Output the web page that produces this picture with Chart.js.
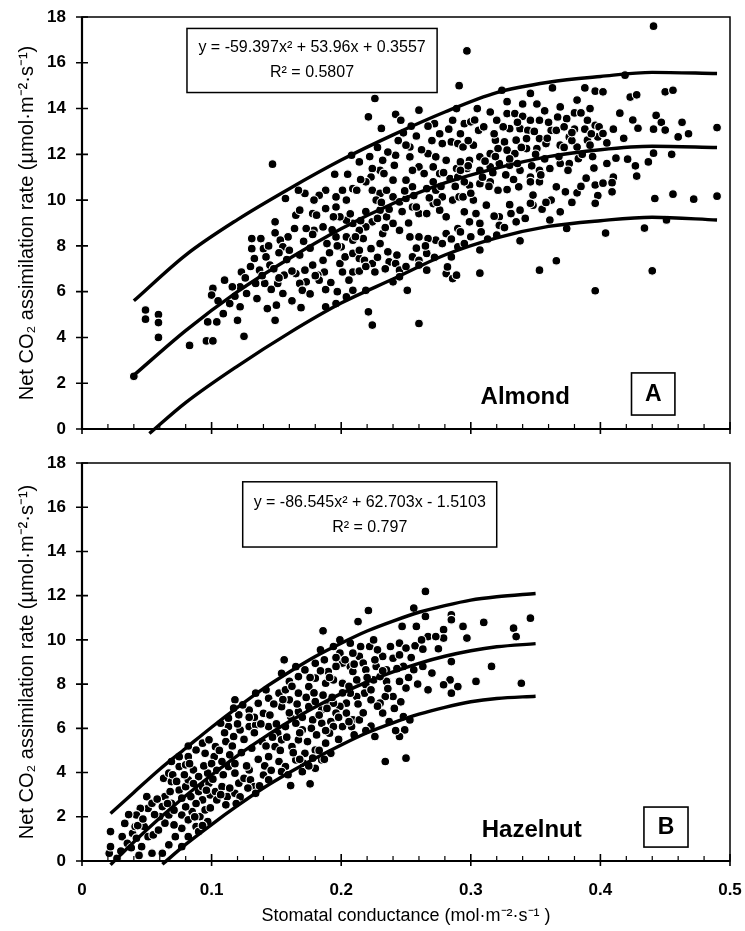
<!DOCTYPE html>
<html><head><meta charset="utf-8">
<script src="https://cdn.jsdelivr.net/npm/chart.js@4.4.1/dist/chart.umd.min.js"></script>
<style>
html,body{margin:0;padding:0;background:#fff;}
#wrap{position:relative;width:745px;height:931px;overflow:hidden;}
#cA{position:absolute;left:0;top:0;}
#cB{position:absolute;left:0;top:445px;}
</style></head><body>
<div id="wrap"><canvas id="cA" width="745" height="445"></canvas><canvas id="cB" width="745" height="486"></canvas></div>
<script>
const FONT = '"Liberation Sans", Arial, Helvetica, sans-serif';

// ---------- axis ticks ----------
const xTicks = [0, 0.1, 0.2, 0.3, 0.4, 0.5];
const xMinorTicks = [0.02,0.04,0.06,0.08,0.12,0.14,0.16,0.18,0.22,0.24,0.26,0.28,0.32,0.34,0.36,0.38,0.42,0.44,0.46,0.48];
const yTicks = [0, 2, 4, 6, 8, 10, 12, 14, 16, 18];

// ---------- texts ----------
const yTitle = 'Net CO\u2082 assimilation rate (\u00B5mol\u00B7m\u207B\u00B2\u00B7s\u207B\u00B9)';
const xTitle = 'Stomatal conductance (mol\u00B7m\u207B\u00B2\u00B7s\u207B\u00B9 )';
const almondEquation = 'y = -59.397x\u00B2 + 53.96x + 0.3557';
const almondR2 = 'R\u00B2 = 0.5807';
const hazelEquation = 'y = -86.545x\u00B2 + 62.703x - 1.5103';
const hazelR2 = 'R\u00B2 = 0.797';

// ---------- Almond (panel A) ----------
const almondPoints = [
[0.040,2.3],[0.049,5.2],[0.049,4.8],[0.059,5.0],[0.059,4.65],[0.059,4.0],[0.083,3.65],[0.096,3.85],[0.101,3.85],[0.125,4.05],
[0.147,11.57],[0.157,10.07],[0.149,9.05],[0.149,8.57],[0.195,11.13],[0.205,11.13],[0.214,11.67],[0.208,11.96],[0.221,13.64],[0.226,14.44],[0.231,13.13],[0.242,13.75],[0.246,13.49],[0.260,13.93],[0.254,13.23],[0.248,12.94],[0.272,13.34],[0.267,13.23],[0.286,13.49],[0.289,14.0],
[0.285,12.54],[0.278,12.47],[0.290,12.47],[0.267,12.03],[0.273,11.89],[0.281,11.74],[0.289,11.38],[0.271,11.45],[0.260,11.45],[0.253,12.32],[0.253,11.89],[0.242,11.96],[0.232,11.74],[0.241,11.52],[0.230,11.3],[0.224,11.38],
[0.255,11.3],[0.264,11.16],[0.276,11.16],[0.284,10.94],[0.290,11.01],
[0.209,10.5],[0.201,10.43],[0.196,10.14],[0.188,10.43],[0.183,10.21],[0.179,10.0],[0.172,10.29],[0.167,10.43],[0.165,9.34],[0.168,9.56],[0.178,9.41],[0.181,9.34],[0.186,8.83],[0.179,8.68],[0.173,8.76],[0.164,8.76],[0.159,8.39],[0.153,8.25],[0.155,7.96],[0.160,7.81],[0.140,7.88],[0.131,8.32],[0.138,8.32],[0.131,7.88],[0.133,7.45],[0.142,7.52],[0.145,7.16],[0.137,6.94],[0.123,6.86],[0.122,6.21],[0.127,5.92],[0.101,6.14],[0.100,5.85],[0.116,6.21],[0.114,5.48],[0.122,5.34],[0.109,5.04],[0.104,4.68],[0.120,4.75],[0.097,4.68],[0.134,6.36],[0.141,6.36],[0.143,5.26],[0.150,5.41],[0.149,4.75],[0.155,5.92],[0.151,6.36],[0.156,6.72],[0.165,6.79],[0.172,6.94],[0.178,7.16],[0.186,7.37],[0.187,6.86],[0.182,6.72],[0.173,6.43],[0.168,6.36],[0.170,6.06],[0.183,6.5],[0.188,6.09],[0.199,7.23],[0.203,7.52],[0.209,7.67],[0.214,7.45],[0.218,7.37],[0.224,7.23],[0.226,6.86],[0.209,6.86],[0.201,6.86],[0.200,7.96],[0.196,8.39],[0.204,8.39],[0.209,8.25],[0.217,8.32],[0.214,7.81],[0.223,7.88],[0.230,8.10],[0.236,7.74],[0.237,7.30],[0.242,7.23],[0.245,6.94],[0.255,7.52],[0.260,7.37],[0.266,6.94],[0.281,6.79],[0.286,6.57],[0.289,6.72],[0.285,7.52],[0.290,7.96],[0.290,8.76],[0.281,8.54],[0.273,8.25],[0.267,8.32],[0.260,8.39],[0.253,8.39],[0.245,8.68],[0.240,8.98],[0.235,9.27],[0.230,9.56],[0.224,9.05],[0.219,8.83],[0.214,8.68],[0.209,8.98],[0.204,9.12],[0.199,9.27],[0.194,9.27],[0.188,9.63],[0.196,9.70],[0.204,10.0],[0.212,10.43],[0.224,10.43],[0.230,10.29],[0.235,10.43],[0.240,10.14],[0.245,9.92],[0.250,10.07],[0.255,9.70],[0.260,9.41],[0.266,9.41],[0.271,9.85],[0.276,9.56],[0.281,9.27],[0.286,10.0],[0.291,10.14],[0.278,10.14],[0.273,10.43],[0.266,10.5],[0.255,10.58],[0.250,10.87],[0.240,10.87],[0.233,11.16],[0.223,11.01],[0.219,10.8],[0.227,10.0],[0.232,8.54],[0.219,6.06],[0.209,6.06],[0.204,5.77],[0.196,5.48],[0.188,5.34],[0.221,5.12],[0.224,4.54],[0.260,4.61],[0.251,6.06],[0.240,6.43],[0.245,6.65],[0.260,7.16],[0.266,7.67],[0.282,7.08],
[0.295,13.34],[0.300,13.42],[0.306,13.05],[0.315,13.85],[0.320,13.49],[0.328,13.78],[0.334,13.78],[0.340,13.66],[0.346,13.49],[0.353,13.49],[0.330,13.12],[0.338,13.12],[0.344,13.05],[0.319,12.62],[0.326,12.54],[0.335,12.62],[0.343,12.69],[0.353,12.69],[0.362,13.05],[0.367,13.63],[0.374,13.56],[0.380,13.81],[0.385,13.81],[0.390,13.49],[0.396,13.27],[0.399,13.2],[0.366,13.05],[0.376,12.76],[0.369,12.4],[0.382,12.32],[0.390,12.62],[0.398,12.76],[0.402,12.91],
[0.294,12.32],[0.302,12.4],[0.292,11.67],[0.299,11.74],[0.307,11.89],[0.315,12.03],[0.321,12.25],[0.328,12.18],[0.334,12.03],[0.343,12.25],[0.351,12.25],[0.358,12.47],
[0.297,11.38],[0.307,11.3],[0.315,11.45],[0.322,11.6],[0.330,11.52],[0.338,11.3],[0.346,11.01],[0.353,11.3],[0.361,11.38],[0.369,11.6],[0.376,11.6],[0.383,11.81],
[0.299,10.65],[0.307,10.72],[0.315,10.8],[0.321,10.43],[0.328,10.46],[0.337,10.58],[0.346,10.8],[0.353,10.8],[0.366,10.58],
[0.294,10.14],[0.302,10.0],[0.312,9.78],[0.295,9.49],[0.304,9.41],[0.322,9.27],[0.331,9.41],[0.338,9.56],[0.348,9.78],[0.299,9.05],[0.307,8.98],[0.292,8.61],[0.308,8.61],[0.322,8.9],[0.335,9.05],
[0.297,16.52],[0.291,15.0],[0.324,14.8],[0.346,14.66],[0.363,14.9],[0.388,14.9],[0.396,14.76],[0.402,14.73],[0.419,15.46],[0.423,14.5],[0.428,14.6],[0.450,14.73],[0.456,14.8],[0.305,14.0],[0.328,14.3],[0.340,14.2],[0.351,14.2],[0.369,14.07],[0.382,14.37],[0.392,14.0],[0.415,13.8],[0.425,13.5],[0.429,13.14],[0.443,13.7],[0.447,13.4],[0.441,13.1],[0.450,13.06],[0.463,13.4],[0.468,12.9],[0.460,12.76],[0.490,13.17],[0.441,12.05],[0.455,12.0],[0.437,11.67],[0.412,11.83],[0.421,11.79],[0.427,11.5],[0.428,11.05],[0.405,11.6],[0.410,11.0],[0.394,11.9],[0.389,10.96],[0.396,10.66],[0.402,10.74],[0.409,10.76],[0.398,10.2],[0.396,9.86],[0.409,10.36],[0.442,10.07],[0.456,10.26],[0.472,10.04],[0.490,10.17],[0.373,10.36],[0.382,10.32],[0.369,9.49],[0.361,9.13],[0.374,8.76],[0.404,8.56],[0.434,8.78],[0.451,9.13],[0.338,8.22],[0.353,6.94],[0.366,7.35],[0.396,6.04],[0.440,6.91],[0.307,6.81],[0.320,8.47],[0.346,9.86],[0.348,10.22],[0.307,7.82],[0.441,17.6],
[0.148,7.0],[0.152,6.6],[0.158,7.4],[0.162,6.9],[0.168,7.6],[0.171,8.2],[0.176,7.9],[0.178,8.5],[0.189,8.1],[0.191,7.7],[0.193,8.7],[0.197,8.0],[0.207,9.4],[0.211,8.4],[0.215,9.1],[0.219,9.5],[0.228,9.2],[0.231,9.9],[0.234,8.8],[0.237,9.6],[0.247,9.5],[0.249,10.4],[0.252,9.0],[0.256,10.2],[0.258,9.7],[0.268,10.1],[0.271,10.8],[0.274,9.9],[0.277,10.6],[0.279,11.2],[0.288,10.6],[0.292,11.3],[0.295,10.8],[0.298,11.5],[0.300,10.3],[0.309,11.0],[0.311,11.7],[0.314,10.6],[0.317,11.2],[0.319,11.9],[0.327,11.1],[0.330,11.8],[0.333,10.9],[0.336,11.6],[0.339,12.3],[0.347,11.5],[0.350,12.0],[0.354,11.1],[0.357,11.8],[0.359,12.7],[0.368,11.9],[0.372,12.3],[0.375,11.3],[0.378,12.6],[0.380,13.1],[0.386,12.0],[0.392,12.4],[0.395,11.4],[0.388,13.1],
[0.215,10.9],[0.222,11.9],[0.228,12.3],[0.236,12.1],[0.244,12.6],[0.250,12.4],[0.258,12.8],[0.262,12.2],[0.270,12.6],[0.276,12.9],[0.283,13.1],[0.292,12.9],[0.298,12.6],[0.303,13.5],[0.310,13.2],[0.318,12.9],[0.325,13.2],[0.336,13.4],[0.349,13.0],[0.357,13.9],[0.360,13.4],[0.372,13.2],[0.378,12.95],[0.393,12.9],[0.405,12.5],[0.410,13.1],[0.418,12.7],
[0.162,5.6],[0.169,5.3],[0.176,5.9],[0.180,6.7],[0.192,6.4],[0.197,6.0],[0.206,6.5],[0.214,6.9],[0.219,7.1],[0.228,7.5],[0.234,7.0],[0.243,7.6],[0.250,7.1],[0.258,7.9],[0.265,8.0],[0.272,7.5],[0.278,8.1],[0.285,8.3],[0.295,8.1],[0.300,8.4],[0.313,8.3],[0.318,9.3],[0.326,8.8],[0.330,9.8],[0.342,9.2],[0.355,9.6],[0.362,10.0],[0.358,9.9],[0.378,9.9],[0.385,10.6],
[0.105,5.6],[0.110,6.5],[0.118,5.8],[0.126,6.6],[0.130,7.1],[0.135,5.7],[0.139,6.7],[0.146,6.1],[0.144,8.0],[0.152,7.7]
];
const almondCurveX = [0.04, 0.08, 0.12, 0.16, 0.20, 0.24, 0.28, 0.32, 0.36, 0.40, 0.44, 0.49];
const almondUpper  = [5.6, 7.6, 9.15, 10.5, 11.75, 12.85, 13.85, 14.7, 15.15, 15.4, 15.58, 15.53];
const almondFit    = [2.35, 4.3, 6.0, 7.45, 8.75, 9.85, 10.75, 11.4, 11.9, 12.2, 12.35, 12.3];
const almondLowerX = [0.052, 0.08, 0.12, 0.16, 0.20, 0.24, 0.28, 0.32, 0.36, 0.40, 0.44, 0.49];
const almondLower  = [-0.2, 1.15, 2.75, 4.2, 5.5, 6.55, 7.6, 8.35, 8.85, 9.1, 9.25, 9.13];

// ---------- Hazelnut (panel B) ----------
const hazelPoints = [
[0.022,1.33],[0.021,0.35],[0.022,0.65],[0.027,0.12],[0.031,1.1],[0.035,0.8],[0.039,1.25],[0.042,1.03],[0.041,1.56],[0.048,1.56],[0.050,2.91],[0.051,1.1],[0.055,1.18],[0.059,1.4],[0.046,0.65],[0.054,0.35],[0.062,0.35],[0.067,0.73],[0.072,1.1],[0.077,1.48],[0.082,1.1],[0.077,0.65],[0.071,1.63],[0.064,1.71],[0.060,2.01],[0.067,2.08],[0.077,2.08],[0.085,2.23],[0.091,2.01],[0.095,2.31],[0.097,1.78],[0.088,1.56],[0.082,1.86],[0.090,1.33],[0.062,2.46],[0.051,2.38],[0.045,2.38],[0.042,2.08],[0.054,2.61],[0.064,2.91],[0.068,3.14],[0.075,3.21],[0.080,3.36],[0.077,2.84],[0.069,2.61],[0.084,2.91],[0.090,3.14],[0.093,2.76],[0.099,2.99],
[0.063,3.74],[0.067,3.97],[0.075,4.27],[0.080,4.35],[0.086,4.12],[0.090,3.82],[0.097,3.97],[0.069,3.59],[0.082,3.67],[0.093,3.36],[0.098,3.52],[0.103,3.14],[0.108,3.36],[0.112,2.91],[0.111,2.54],[0.104,2.76],[0.118,3.06],[0.121,3.52],[0.118,3.97],[0.125,3.74],[0.130,3.67],[0.133,3.36],[0.134,3.06],[0.140,3.89],[0.144,3.67],[0.129,4.12],[0.113,4.27],[0.108,4.5],[0.102,4.72],[0.095,4.87],[0.088,5.02],[0.082,4.72],[0.075,4.72],[0.069,4.5],[0.082,5.2],[0.093,5.33],[0.098,5.48],[0.103,5.17],[0.111,5.4],[0.117,5.63],[0.122,5.93],[0.129,6.08],[0.134,6.15],[0.113,6.08],[0.107,6.23],[0.113,6.46],[0.121,6.61],[0.129,6.83],[0.133,6.5],[0.140,6.68],[0.136,7.13],[0.144,7.36],[0.152,7.59],[0.157,7.74],[0.142,7.74],[0.134,7.59],[0.124,7.06],[0.118,7.29],[0.117,6.91],
[0.156,9.1],[0.184,9.55],[0.154,8.49],[0.160,8.12],[0.167,8.34],[0.172,8.64],[0.180,8.94],[0.187,9.1],[0.190,8.57],[0.165,8.79],[0.160,7.29],[0.167,7.59],[0.175,7.89],[0.180,8.27],[0.188,8.04],[0.154,6.98],[0.161,6.53],[0.167,6.76],[0.175,6.98],[0.180,7.21],[0.185,6.83],[0.190,7.13],[0.144,6.08],[0.151,5.78],[0.157,6.08],[0.165,6.23],[0.170,5.93],[0.178,6.38],[0.185,6.23],[0.192,6.31],[0.149,5.17],[0.154,5.48],[0.162,5.17],[0.167,5.48],[0.172,4.87],[0.180,5.02],[0.188,5.33],[0.192,4.87],[0.144,4.72],[0.152,4.5],[0.157,4.27],[0.165,4.57],[0.171,4.42],[0.178,4.65],[0.180,4.19],[0.185,4.57],[0.161,3.41],[0.176,3.49],[0.154,4.04],[0.170,4.04],
[0.265,12.19],[0.221,11.33],[0.213,10.83],[0.186,10.41],[0.256,11.44],[0.265,11.06],[0.285,11.13],[0.285,10.91],[0.247,10.61],[0.258,10.61],[0.279,10.46],[0.279,10.08],[0.267,10.15],[0.273,10.15],[0.294,10.61],[0.297,10.08],[0.310,10.79],[0.333,10.53],[0.335,10.15],[0.346,10.98],[0.316,8.8],[0.339,8.04],[0.304,8.12],[0.285,9.02],[0.284,8.19],[0.279,7.97],[0.290,7.89],[0.285,7.59],[0.267,7.74],[0.248,8.8],[0.256,8.65],[0.263,8.8],[0.235,8.12],[0.245,8.12],[0.250,7.82],[0.240,7.44],[0.234,7.44],[0.245,9.85],[0.250,9.63],[0.257,9.73],[0.263,9.58],[0.232,9.25],[0.240,9.17],[0.245,9.32],[0.222,9.7],[0.228,9.55],[0.225,10.0],[0.214,9.25],[0.209,9.4],[0.217,8.95],[0.207,8.8],[0.201,8.95],[0.196,8.8],[0.209,8.57],[0.219,8.65],[0.227,8.8],[0.235,8.65],[0.199,10.0],[0.207,9.85],[0.194,9.7],[0.199,9.4],[0.212,8.19],[0.219,7.97],[0.225,8.19],[0.230,8.34],[0.218,7.59],[0.223,7.74],[0.230,7.14],[0.232,6.69],[0.223,7.29],[0.212,7.44],[0.207,7.59],[0.204,7.14],[0.199,6.99],[0.194,7.14],[0.196,6.69],[0.204,6.69],[0.209,6.38],[0.214,6.38],[0.208,6.08],[0.201,6.08],[0.194,6.08],[0.191,5.78],[0.194,8.19],[0.201,8.04],[0.248,6.53],[0.249,5.93],[0.245,5.63],[0.226,5.63],[0.234,4.5],[0.250,4.65],[0.253,6.38],
[0.033,1.7],[0.036,2.1],[0.043,1.6],[0.047,1.9],[0.056,2.1],[0.058,2.8],[0.030,0.45],[0.038,0.6],[0.044,0.25],
[0.066,2.6],[0.070,3.9],[0.073,3.6],[0.079,3.9],[0.083,4.4],[0.086,3.5],[0.088,2.6],[0.094,4.3],[0.096,3.2],[0.100,4.4],[0.101,3.7],[0.071,2.3],[0.080,2.45],[0.087,2.0],[0.093,1.6],[0.099,2.4],
[0.104,4.1],[0.106,5.0],[0.109,3.9],[0.110,5.8],[0.114,4.8],[0.116,5.2],[0.118,4.4],[0.120,6.2],[0.123,4.9],[0.125,5.5],[0.127,4.3],[0.129,6.5],[0.131,5.1],[0.133,5.8],[0.136,4.6],[0.138,6.2],[0.139,5.4],[0.107,3.0],[0.114,3.3],[0.122,2.9],[0.128,3.3],[0.137,3.4],[0.141,4.3],[0.119,2.6],
[0.142,5.2],[0.145,6.6],[0.147,5.6],[0.148,7.1],[0.150,6.2],[0.153,5.0],[0.155,7.3],[0.158,5.6],[0.160,6.7],[0.162,7.9],[0.163,4.9],[0.166,7.1],[0.168,5.8],[0.170,6.5],[0.173,7.4],[0.174,5.4],[0.176,8.3],[0.177,6.0],[0.179,7.6],[0.181,5.7],[0.183,6.6],[0.184,8.6],[0.186,7.5],[0.188,5.9],[0.189,6.9],[0.191,8.3],[0.146,4.1],[0.159,3.9],[0.168,4.6],[0.175,4.3],[0.183,5.0],[0.187,4.6],
[0.193,7.4],[0.196,9.2],[0.198,6.5],[0.201,7.6],[0.203,9.1],[0.206,7.9],[0.206,6.3],[0.210,8.9],[0.213,7.1],[0.215,9.7],[0.217,6.7],[0.220,8.3],[0.223,6.1],[0.226,9.1],[0.228,7.0],[0.232,8.6],[0.236,7.8],[0.238,9.7],[0.241,6.9],[0.243,8.7],[0.246,7.2],[0.252,8.3],[0.254,9.2],[0.259,8.0],[0.262,10.0],[0.270,8.5],[0.275,9.6],[0.198,5.5],[0.210,5.7],[0.219,5.9],[0.237,6.3],[0.242,5.9]
];
const hazelCurveX = [0.022, 0.04, 0.06, 0.08, 0.10, 0.12, 0.14, 0.16, 0.18, 0.20, 0.22, 0.24, 0.26, 0.28, 0.30, 0.32, 0.35];
const hazelUpper  = [2.15, 3.1, 4.15, 5.1, 6.05, 6.95, 7.8, 8.55, 9.25, 9.85, 10.4, 10.85, 11.25, 11.55, 11.8, 11.95, 12.1];
const hazelFit    = [-0.17, 0.86, 1.94, 2.95, 3.89, 4.77, 5.57, 6.31, 6.97, 7.57, 8.10, 8.55, 8.94, 9.26, 9.51, 9.69, 9.83];
const hazelLowerX = [0.062, 0.08, 0.10, 0.12, 0.14, 0.16, 0.18, 0.20, 0.22, 0.24, 0.26, 0.28, 0.30, 0.32, 0.35];
const hazelLower  = [-0.15, 0.75, 1.65, 2.5, 3.3, 4.0, 4.65, 5.25, 5.8, 6.25, 6.64, 6.95, 7.2, 7.35, 7.45];

// ---------- helpers ----------
const toXY = (xs, ys) => xs.map((x, i) => ({x, y: ys[i]}));
const pairs = arr => arr.map(([x, y]) => ({x, y}));

function lineSet(xs, ys) {
  return { data: toXY(xs, ys), showLine: true, borderColor: '#000', borderWidth: 3.4,
    pointRadius: 0, pointHoverRadius: 0, cubicInterpolationMode: 'monotone', fill: false, order: 0, clip: false };
}
function pointSet(arr) {
  return { data: pairs(arr), showLine: false, pointRadius: 4.4, pointHoverRadius: 4.4,
    pointBackgroundColor: '#000', pointBorderColor: '#fff', pointBorderWidth: 1.1, order: 1 };
}

function makeDecor(cfg) {
  return {
    id: 'decor' + cfg.name,
    afterDatasetsDraw(chart) {
      const {ctx, chartArea: ca, scales} = chart;
      const xs = scales.x, ys = scales.y;
      ctx.save();
      ctx.strokeStyle = '#000'; ctx.fillStyle = '#000';
      ctx.lineWidth = 1.5;
      ctx.strokeRect(ca.left, ca.top, ca.right - ca.left, ca.bottom - ca.top);
      ctx.lineWidth = 2.2;
      ctx.beginPath();
      ctx.moveTo(ca.left, ca.top); ctx.lineTo(ca.left, ca.bottom); ctx.lineTo(ca.right, ca.bottom);
      ctx.stroke();
      ctx.lineWidth = 1.6;
      ctx.beginPath();
      yTicks.forEach(v => { const p = ys.getPixelForValue(v); ctx.moveTo(ca.left - 6, p); ctx.lineTo(ca.left + 6, p); });
      xTicks.forEach(v => { const p = xs.getPixelForValue(v); ctx.moveTo(p, ca.bottom + 5); ctx.lineTo(p, ca.bottom - 7); });
      ctx.stroke();
      ctx.lineWidth = 1.2;
      ctx.beginPath();
      xMinorTicks.forEach(v => { const p = xs.getPixelForValue(v); ctx.moveTo(p, ca.bottom); ctx.lineTo(p, ca.bottom - 5); });
      ctx.stroke();
      // equation box
      const b = cfg.box;
      const bx1 = xs.getPixelForValue(b[0]), bx2 = xs.getPixelForValue(b[1]);
      const by1 = ys.getPixelForValue(b[2]), by2 = ys.getPixelForValue(b[3]);
      ctx.fillStyle = '#fff'; ctx.fillRect(bx1, by1, bx2 - bx1, by2 - by1);
      ctx.lineWidth = 1.5; ctx.strokeRect(bx1, by1, bx2 - bx1, by2 - by1);
      ctx.fillStyle = '#000';
      ctx.textAlign = 'center'; ctx.textBaseline = 'middle';
      ctx.font = '16px ' + FONT;
      const cx = xs.getPixelForValue((b[0] + b[1]) / 2);
      ctx.fillText(cfg.eq, cx, ys.getPixelForValue(cfg.eqY[0]));
      ctx.fillText(cfg.r2, cx, ys.getPixelForValue(cfg.eqY[1]));
      // species name
      ctx.font = 'bold 24px ' + FONT;
      ctx.fillText(cfg.label, xs.getPixelForValue(cfg.labelPos[0]), ys.getPixelForValue(cfg.labelPos[1]));
      // letter box
      const l = cfg.letterBox;
      const lx1 = xs.getPixelForValue(l[0]), lx2 = xs.getPixelForValue(l[1]);
      const ly1 = ys.getPixelForValue(l[2]), ly2 = ys.getPixelForValue(l[3]);
      ctx.lineWidth = 1.6; ctx.strokeRect(lx1, ly1, lx2 - lx1, ly2 - ly1);
      ctx.font = 'bold 23px ' + FONT;
      ctx.fillText(cfg.letter, (lx1 + lx2) / 2, (ly1 + ly2) / 2 + 1);
      ctx.restore();
    }
  };
}

function baseOptions(showXLabels, padTop, xHeight) {
  return {
    responsive: false, animation: false, devicePixelRatio: 1,
    layout: { padding: { top: padTop, right: 15, left: 0, bottom: 0 } },
    plugins: { legend: { display: false }, tooltip: { enabled: false } },
    events: [],
    scales: {
      x: {
        type: 'linear', min: 0, max: 0.5,
        ticks: { display: showXLabels, stepSize: 0.1, autoSkip: false, maxRotation: 0, padding: 19,
                 color: '#000', font: { family: FONT, size: 17, weight: 'bold' } },
        grid: { display: false, drawTicks: false }, border: { display: false },
        title: { display: showXLabels, text: xTitle, color: '#000',
                 font: { family: FONT, size: 18 }, padding: { top: 4, bottom: 4 } },
        afterFit(s) { s.height = xHeight; s.paddingLeft = 0; s.paddingRight = 0; }
      },
      y: {
        type: 'linear', min: 0, max: 18,
        ticks: { stepSize: 2, padding: 16, color: '#000', font: { family: FONT, size: 17, weight: 'bold' } },
        grid: { display: false, drawTicks: false }, border: { display: false },
        title: { display: true, text: yTitle, color: '#000', font: { family: FONT, size: 20 },
                 padding: { top: 15, bottom: 0 } },
        afterFit(s) { s.width = 82; s.paddingTop = 0; s.paddingBottom = 0; }
      }
    }
  };
}

new Chart(document.getElementById('cA'), {
  type: 'scatter',
  data: { datasets: [
    lineSet(almondCurveX, almondUpper),
    lineSet(almondCurveX, almondFit),
    lineSet(almondLowerX, almondLower),
    pointSet(almondPoints)
  ]},
  options: baseOptions(false, 17, 16),
  plugins: [makeDecor({ name: 'A', box: [0.081, 0.274, 17.5, 14.7], eq: almondEquation, r2: almondR2,
    eqY: [16.65, 15.55], label: 'Almond', labelPos: [0.342, 1.4], letter: 'A', letterBox: [0.424, 0.4575, 2.45, 0.61] })]
});

new Chart(document.getElementById('cB'), {
  type: 'scatter',
  data: { datasets: [
    lineSet(hazelCurveX, hazelUpper),
    lineSet(hazelCurveX, hazelFit),
    lineSet(hazelLowerX, hazelLower),
    pointSet(hazelPoints)
  ]},
  options: baseOptions(true, 18, 70),
  plugins: [makeDecor({ name: 'B', box: [0.124, 0.32, 17.15, 14.2], eq: hazelEquation, r2: hazelR2,
    eqY: [16.2, 15.07], label: 'Hazelnut', labelPos: [0.347, 1.4], letter: 'B', letterBox: [0.4336, 0.4676, 2.44, 0.63] })]
});
</script>
</body></html>
